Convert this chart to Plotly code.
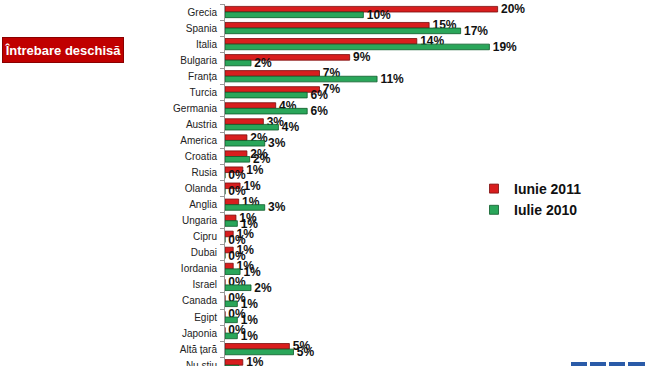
import plotly.graph_objects as go

categories = ["Grecia", "Spania", "Italia", "Bulgaria", "Franța", "Turcia", "Germania",
              "Austria", "America", "Croatia", "Rusia", "Olanda", "Anglia", "Ungaria",
              "Cipru", "Dubai", "Iordania", "Israel", "Canada", "Egipt", "Japonia",
              "Altă țară", "Nu știu"]

iunie_2011 = [19.9, 14.9, 14.0, 9.1, 6.9, 6.9, 3.7, 2.8, 1.6, 1.6, 1.3, 1.1, 1.0, 0.8,
              0.6, 0.6, 0.6, 0.0, 0.0, 0.0, 0.0, 4.7, 1.3]
iunie_2011_labels = ["20%", "15%", "14%", "9%", "7%", "7%", "4%", "3%", "2%", "2%", "1%", "1%",
                     "1%", "1%", "1%", "1%", "1%", "0%", "0%", "0%", "0%", "5%", "1%"]

iulie_2010 = [10.1, 17.2, 19.3, 1.9, 11.1, 6.0, 6.0, 3.9, 2.9, 1.8, 0.0, 0.0, 2.9, 0.9,
              0.0, 0.0, 1.1, 1.9, 0.9, 0.9, 0.9, 5.0, 1.0]
iulie_2010_labels = ["10%", "17%", "19%", "2%", "11%", "6%", "6%", "4%", "3%", "2%", "0%", "0%",
                     "3%", "1%", "0%", "0%", "1%", "2%", "1%", "1%", "1%", "5%", "1%"]

series_names = ["Iunie 2011", "Iulie 2010"]
series_colors = ["#d81e1e", "#2aa65a"]
series_edges = ["#7a0c0c", "#0d5a2a"]

W, H = 650, 366
L, R, T, B = 225, 14, 4, 0
pw, ph = W - L - R, H - T - B

def px_x(x):
    return (x - L) / pw

def px_y(y):
    return 1 - (y - T) / ph

txtfont = dict(family="Arial, Liberation Sans, sans-serif", size=12, color="#111111", weight="bold")

fig = go.Figure()
for name, vals, labels, col, edge in zip(series_names, [iunie_2011, iulie_2010],
                                          [iunie_2011_labels, iulie_2010_labels],
                                          series_colors, series_edges):
    fig.add_trace(go.Bar(
        y=categories, x=vals, orientation="h", name=name, showlegend=False,
        marker=dict(color=col, line=dict(color=edge, width=0.8)),
        text=labels, texttemplate="\u00a0%{text}", textposition="outside",
        textfont=txtfont, constraintext="none", cliponaxis=False, hoverinfo="skip",
    ))
for name, col, edge in zip(series_names, series_colors, series_edges):
    fig.add_trace(go.Scatter(
        x=[None], y=[None], mode="markers", name=name, showlegend=True,
        marker=dict(symbol="square", size=9, color=col, line=dict(color=edge, width=0.8)),
    ))

fig.update_layout(
    width=W, height=H,
    margin=dict(l=L, r=R, t=T, b=B, pad=0),
    template="none",
    paper_bgcolor="white", plot_bgcolor="white",
    barmode="group", bargap=0.3, bargroupgap=0.0,
    font=dict(family="Arial, Liberation Sans, sans-serif", size=10, color="#222222"),
    showlegend=True,
    legend=dict(x=px_x(474), y=px_y(173), xanchor="left", yanchor="top",
                font=dict(size=14, color="#111111", weight="bold"),
                bgcolor="rgba(0,0,0,0)", itemwidth=30, traceorder="normal"),
    xaxis=dict(range=[0, 30], visible=False, automargin=False),
    yaxis=dict(type="category", range=[22.05, -0.5], automargin=False,
               showline=True, linecolor="#9a9a9a", linewidth=1,
               ticks="outside", ticklen=4, tickcolor="#9a9a9a", tickson="boundaries",
               showgrid=False, zeroline=False, ticklabelstandoff=5,
               tickfont=dict(size=10, color="#222222")),
    annotations=[dict(
        text="<b>Întrebare deschisă</b>", xref="paper", yref="paper",
        x=px_x(63), y=px_y(50), xanchor="center", yanchor="middle",
        showarrow=False, font=dict(size=13, color="white"),
        bgcolor="#c00000", bordercolor="#8a0000", borderwidth=1,
        width=118, height=22,
    )],
)

for x0, x1 in [(571, 587), (590, 606), (609, 625), (628, 645)]:
    fig.add_shape(type="rect", xref="paper", yref="paper",
                  x0=px_x(x0), x1=px_x(x1), y0=px_y(366), y1=px_y(362),
                  fillcolor="#2a5ba8", line=dict(width=0))

fig.write_html("out.html", config={"displayModeBar": False},
               post_script="document.body.style.margin='0';")
